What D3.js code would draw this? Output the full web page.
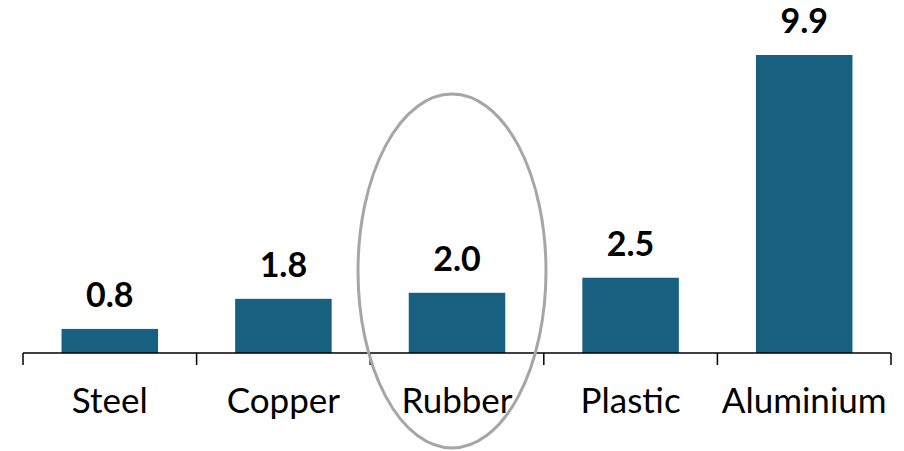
<!DOCTYPE html>
<html>
<head>
<script src="https://d3js.org/d3.v7.min.js"></script>
<style>
body { margin: 0; background: white; }
.val { font-family: Lato, "Open Sans", sans-serif; font-weight: bold; font-size: 34px; }
.cat { font-family: Lato, "Open Sans", sans-serif; font-size: 35px; }
</style>
</head>
<body>
<svg width="904" height="451"></svg>
<script>
var materials = ["Steel", "Copper", "Rubber", "Plastic", "Aluminium"];
var values = [0.8, 1.8, 2.0, 2.5, 9.9];
var labels = ["0.8", "1.8", "2.0", "2.5", "9.9"];
var highlight = "Rubber";

var svg = d3.select("svg");
var base = 353;

var x = d3.scaleBand().domain(materials).range([23, 891])
  .paddingInner(0.444).paddingOuter(0.222);
var y = d3.scaleLinear().domain([0, 10]).range([base, 52]);

// bars
svg.selectAll("rect.bar").data(materials).enter().append("rect")
  .attr("class", "bar")
  .attr("x", function(d){ return x(d); })
  .attr("y", function(d, i){ return y(values[i]); })
  .attr("width", x.bandwidth())
  .attr("height", function(d, i){ return base - y(values[i]); })
  .style("fill", "#17607f");

// value labels
svg.selectAll("text.val").data(materials).enter().append("text")
  .attr("class", "val")
  .attr("x", function(d){ return x(d) + x.bandwidth()/2; })
  .attr("y", function(d, i){ return y(values[i]) - 22; })
  .attr("text-anchor", "middle")
  .text(function(d, i){ return labels[i]; });

// axis line + ticks at category boundaries
var gap = (x.step() - x.bandwidth())/2;
var bounds = materials.map(function(d){ return x(d) - gap; });
bounds.push(x(materials[materials.length-1]) + x.bandwidth() + gap);

svg.append("line")
  .attr("x1", bounds[0]).attr("x2", bounds[bounds.length-1])
  .attr("y1", base).attr("y2", base)
  .style("stroke", "black").style("stroke-width", 1.5);

svg.selectAll("line.tick").data(bounds).enter().append("line")
  .attr("class", "tick")
  .attr("x1", function(d){ return d; }).attr("x2", function(d){ return d; })
  .attr("y1", base).attr("y2", base + 12)
  .style("stroke", "black").style("stroke-width", 1.5);

// category labels
svg.selectAll("text.cat").data(materials).enter().append("text")
  .attr("class", "cat")
  .attr("x", function(d){ return x(d) + x.bandwidth()/2; })
  .attr("y", 413)
  .attr("text-anchor", "middle")
  .text(function(d){ return d; });

// highlight ellipse
svg.append("ellipse")
  .attr("cx", x(highlight) + x.bandwidth()/2 - 5)
  .attr("cy", 271)
  .attr("rx", 94)
  .attr("ry", 177)
  .style("fill", "none")
  .style("stroke", "#a6a6a6")
  .style("stroke-width", 3);
</script>
</body>
</html>
